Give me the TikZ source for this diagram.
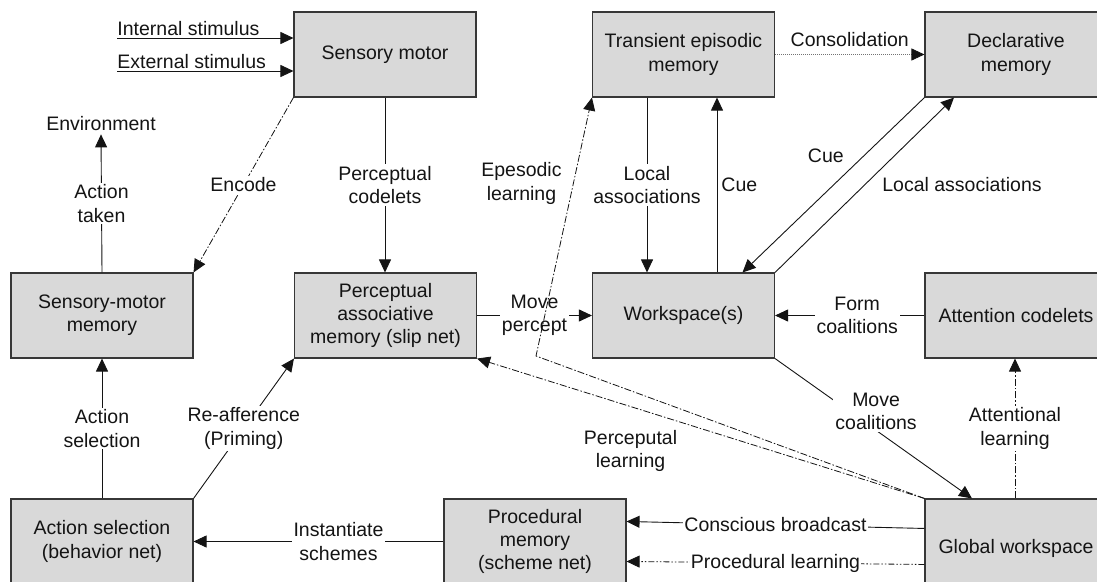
\documentclass[tikz,border=0pt]{standalone}
\usepackage{fontspec}
\setmainfont{Liberation Sans}
\usetikzlibrary{arrows.meta,calc}
\definecolor{boxfill}{RGB}{217,217,217}
\definecolor{boxline}{RGB}{55,55,55}
\definecolor{ink}{RGB}{20,20,20}
\begin{document}
\begin{tikzpicture}[x=1pt,y=-1pt,
  every node/.style={font=\fontsize{19.5pt}{23.4pt}\selectfont, text=ink, align=center},
  box/.style={draw=boxline, fill=boxfill, line width=1.1pt,
    minimum width=182pt, minimum height=85pt, inner sep=0pt},
  lbl/.style={fill=white, inner sep=2pt},
  conn/.style={draw=ink, line width=0.9pt},
  arr/.style={conn, -{Triangle[length=13pt,width=12pt,color=ink]}},
  learn/.style={dash pattern=on 7pt off 2pt on 1.5pt off 2pt, line width=0.8pt},
  learntwo/.style={dash pattern=on 6pt off 2pt on 1.5pt off 2pt on 1.5pt off 2pt, line width=0.8pt},
  consol/.style={draw=black!55, dash pattern=on 1pt off 1pt, line width=0.9pt}
]
\useasboundingbox (0,0) rectangle (1097,581);
\clip (0,0) rectangle (1097,581);

% modules
\node[box] (SM)  at (385,54.5)   {Sensory motor};
\node[box] (TEM) at (683.5,54.5) {Transient episodic\\memory};
\node[box] (DM)  at (1016,54.5)  {Declarative\\memory};
\node[box] (SMM) at (102,315.5)  {Sensory-motor\\memory};
\node[box] (PAM) at (385.5,315.5) {Perceptual\\associative\\memory (slip net)};
\node[box] (WS)  at (683.5,315.5) {Workspace(s)};
\node[box] (AC)  at (1016,315.5) {Attention codelets};
\node[box] (AS)  at (102,541.5)  {Action selection\\(behavior net)};
\node[box] (PM)  at (535,541.5)  {Procedural\\memory\\(scheme net)};
\node[box, minimum height=98pt] (GW) at (1016,548) {Global workspace};

\node[inner sep=3pt] (env) at (101,124) {Environment};

% stimuli
\coordinate (is) at (117,38);
\coordinate (es) at (117,71);
\draw[arr] (is) -- node[pos=0, anchor=base west, inner sep=0pt, yshift=3pt]{Internal stimulus} (is -| SM.west);
\draw[arr] (es) -- node[pos=0, anchor=base west, inner sep=0pt, yshift=3pt]{External stimulus} (es -| SM.west);

% left column
\draw[arr, learn] (SM.south west) -- node[lbl]{Encode} (SMM.north east);
\draw[arr] (SMM.north) -- node[lbl]{Action\\taken} (env.south);
\draw[arr] (AS.north) -- node[lbl]{Action\\selection} (SMM.south);
\draw[arr] (AS.north east) -- node[lbl]{Re-afference\\(Priming)} (PAM.south west);
\draw[arr] (SM.south) -- node[lbl]{Perceptual\\codelets} (SM.south |- PAM.north);

% perception to workspace
\draw[arr] (PAM.east) -- node[lbl]{Move\\percept} (WS.west);
\draw[arr] ([xshift=-36.5pt]TEM.south) -- node[lbl]{Local\\associations} ([xshift=-36.5pt]WS.north);
\draw[arr] ([xshift=33.5pt]WS.north) -- node[midway, right, inner sep=4pt]{Cue} ([xshift=33.5pt]TEM.south);
\draw[arr] (DM.south west) -- node[pos=0.335, left=16pt]{Cue} ([xshift=59pt]WS.north);
\draw[arr] (WS.north east) -- node[midway, right=14pt]{Local associations} ([xshift=-62pt]DM.south);
\draw[arr, consol] (TEM.east) -- node[above=3pt, inner sep=4pt]{Consolidation} (DM.west);

% attention and broadcast
\draw[arr] (AC.west) -- node[lbl, pos=0.45]{Form\\coalitions} (WS.east);
\draw[arr] (WS.south east) -- node[lbl, pos=0.513, yshift=19pt]{Move\\coalitions} ([xshift=-44pt]GW.north);
\draw[arr, learn] ([xshift=-1pt]GW.north) -- node[lbl]{Attentional\\learning} ([xshift=-1pt]AC.south);
\draw[arr] ([yshift=-30pt]GW.north west) -- node[lbl, inner sep=1pt]{Conscious broadcast} ([yshift=-23pt]PM.north east);
\draw[arr, learntwo] ([yshift=-66pt]GW.north west) -- node[lbl, inner sep=1pt]{Procedural learning} ([yshift=-63pt]PM.north east);
\draw[arr] (PM.west) -- node[lbl, pos=0.42]{Instantiate\\schemes} (AS.east);

% learning from the global workspace
\draw[arr, learn] (GW.north west) -- node[pos=0.657, below=20pt]{Perceputal\\learning} (PAM.south east);
\coordinate (bend) at (536,356);
\draw[arr, learn] (GW.north west) -- (bend) -- node[pos=0.667, left=8pt]{Epesodic\\learning} (TEM.south west);
\end{tikzpicture}
\end{document}
